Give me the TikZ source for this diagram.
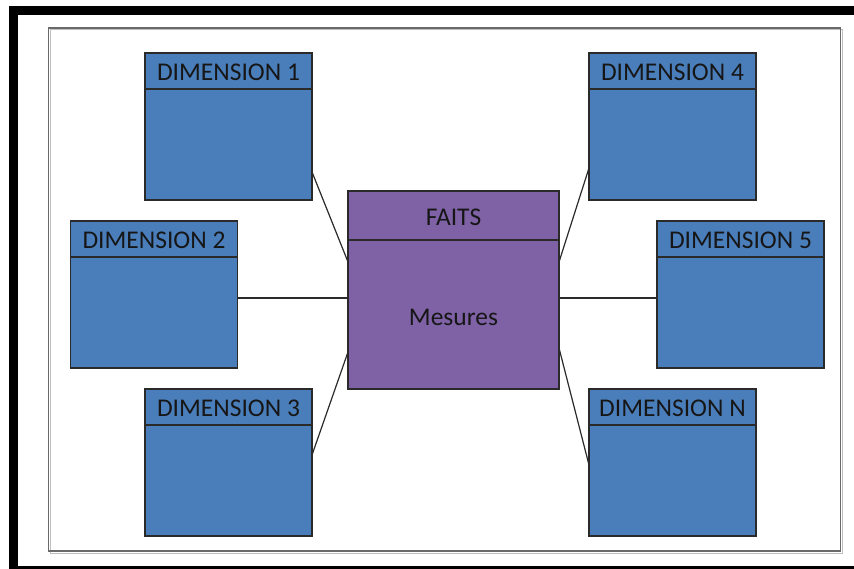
\documentclass[tikz,border=0pt]{standalone}
\usepackage{fontspec}
\setmainfont{Carlito}
\definecolor{dimblue}{HTML}{4A7EBB}
\definecolor{factpurple}{HTML}{7F62A6}
\definecolor{edge}{HTML}{2A2A2A}
\definecolor{ink}{HTML}{161616}
\definecolor{framegray}{HTML}{6A6A6A}
\begin{document}
\begin{tikzpicture}[x=1pt,y=-1pt,
  dimbox/.style={draw=edge,line width=1.3pt,fill=dimblue,minimum width=167pt,minimum height=147pt,inner sep=0pt,outer sep=0pt},
  factbox/.style={draw=edge,line width=1.3pt,fill=factpurple,minimum width=211pt,minimum height=198pt,inner sep=0pt,outer sep=0pt},
  label/.style={text=ink,font=\fontsize{25.5}{30}\selectfont,inner sep=0pt},
  sepline/.style={draw=edge,line width=1.3pt},
  link/.style={draw=edge,line width=1.2pt}]
\useasboundingbox (0,0) rectangle (854,569);
\clip (0,0) rectangle (854,569);
\fill[white] (0,0) rectangle (854,569);
% outer black frame and inner gray frame
\draw[black,line width=9pt] (13,10.5) rectangle (870,570.5);
\draw[black!25,line width=1pt] (50,29.5) rectangle (842,553);
\draw[framegray,line width=1.3pt] (48.5,28) rectangle (840.5,551);

% fact table
\node[factbox] (f) at (453.5,290) {};
\draw[sepline] ([yshift=-49pt]f.north west) -- ([yshift=-49pt]f.north east);
\node[label] (ft) at ([yshift=-26pt]f.north) {FAITS};
\node[label] (fm) at ([yshift=-126pt]f.north) {Mesures};

% dimension tables
\foreach \n/\cx/\cy/\t in {d1/228.5/126.5/DIMENSION 1, d2/154/294.5/DIMENSION 2, d3/228.5/462.5/DIMENSION 3,
                           d4/672.5/126.5/DIMENSION 4, d5/740.5/294.5/DIMENSION 5, dn/672.5/462.5/DIMENSION N}{
  \node[dimbox] (\n) at (\cx,\cy) {};
  \draw[sepline] ([yshift=-36pt]\n.north west) -- ([yshift=-36pt]\n.north east);
  \node[label] (\n t) at ([yshift=-19pt]\n.north) {\t};
}

% connectors
\draw[link] ([yshift=-119pt]d1.north east) -- ([yshift=-71pt]f.north west);
\draw[link] ([yshift=-3.5pt]d2.east) -- ([yshift=-8pt]f.west);
\draw[link] ([yshift=-66pt]d3.north east) -- ([yshift=-161pt]f.north west);
\draw[link] ([yshift=-115pt]d4.north west) -- ([yshift=-71pt]f.north east);
\draw[link] ([yshift=-3.5pt]d5.west) -- ([yshift=-8pt]f.east);
\draw[link] ([yshift=-76pt]dn.north west) -- ([yshift=-157pt]f.north east);
\end{tikzpicture}
\end{document}
